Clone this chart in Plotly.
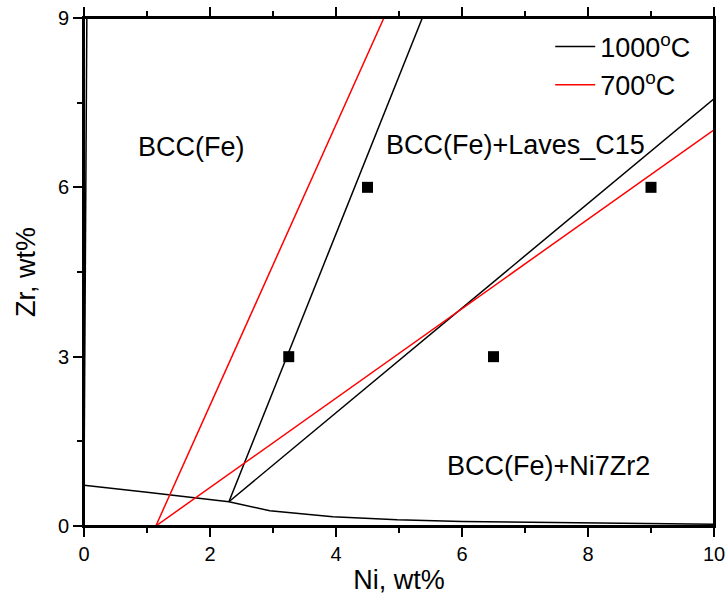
import plotly.graph_objects as go

# Phase boundary data (Ni wt%, Zr wt%)
solvus_left_x = [0.0, 0.045]
solvus_left_y = [0.72, 9.0]

bottom_x = [0.0, 1.0, 2.3, 2.95, 3.95, 4.97, 6.0, 8.0, 10.0]
bottom_y = [0.72, 0.60, 0.43, 0.27, 0.165, 0.11, 0.08, 0.05, 0.03]

black_a_x = [2.3, 5.37]
black_a_y = [0.43, 9.0]
black_b_x = [2.3, 10.0]
black_b_y = [0.43, 7.57]

red_a_x = [1.14, 4.76]
red_a_y = [0.0, 9.0]
red_b_x = [1.14, 10.0]
red_b_y = [0.0, 7.02]

samples_x = [3.25, 4.5, 6.5, 9.0]
samples_y = [3, 6, 3, 6]

labels = ["BCC(Fe)", "BCC(Fe)+Laves_C15", "BCC(Fe)+Ni7Zr2"]
labels_x = [1.71, 6.85, 7.37]
labels_y = [6.72, 6.75, 1.06]

FONT = "Liberation Sans, Arial, sans-serif"
blk = dict(color="black", width=1.5)
red = dict(color="#ff0000", width=1.5)

fig = go.Figure()
fig.add_trace(go.Scatter(x=black_a_x, y=black_a_y, mode="lines", line=blk,
                         name="1000<sup>o</sup>C"))
for xs, ys in [(black_b_x, black_b_y), (bottom_x, bottom_y), (solvus_left_x, solvus_left_y)]:
    fig.add_trace(go.Scatter(x=xs, y=ys, mode="lines", line=blk, showlegend=False))
fig.add_trace(go.Scatter(x=red_a_x, y=red_a_y, mode="lines", line=red,
                         name="700<sup>o</sup>C"))
fig.add_trace(go.Scatter(x=red_b_x, y=red_b_y, mode="lines", line=red, showlegend=False))
fig.add_trace(go.Scatter(x=samples_x, y=samples_y, mode="markers",
                         marker=dict(symbol="square", size=11, color="black"),
                         showlegend=False))

for t, x, y in zip(labels, labels_x, labels_y):
    fig.add_annotation(x=x, y=y, text=t, showarrow=False,
                       font=dict(family=FONT, size=27, color="black"))

axis_common = dict(showgrid=False, zeroline=False, showline=True, linecolor="black",
                   linewidth=2, ticks="outside", ticklen=9, tickwidth=2, tickcolor="black",
                   automargin=False, ticklabeloverflow="allow",
                   tickfont=dict(family=FONT, size=20, color="black"))

fig.update_xaxes(range=[0, 10], dtick=2, tick0=0, mirror="ticks",
                 minor=dict(dtick=1, ticks="outside", ticklen=5, tickwidth=2, tickcolor="black"),
                 title=dict(text="Ni, wt%", font=dict(family=FONT, size=27, color="black"), standoff=6),
                 **axis_common)
fig.update_yaxes(range=[0, 9], dtick=3, tick0=0, mirror=True,
                 minor=dict(dtick=1.5, ticks="outside", ticklen=5, tickwidth=2, tickcolor="black"),
                 title=dict(text="Zr, wt%", font=dict(family=FONT, size=27, color="black"), standoff=14),
                 **axis_common)

# plot frame
fig.add_shape(type="rect", xref="paper", yref="paper", x0=0, y0=0, x1=1, y1=1,
              line=dict(color="black", width=2), layer="above")

fig.update_layout(
    width=726, height=603,
    margin=dict(l=84, r=12, t=18, b=77),
    plot_bgcolor="white", paper_bgcolor="white",
    font=dict(family=FONT, color="black"),
    legend=dict(x=0.74, y=0.991, xanchor="left", yanchor="top",
                bgcolor="rgba(0,0,0,0)", font=dict(family=FONT, size=27, color="black"),
                tracegroupgap=0, itemwidth=40),
)

# remove the default page margin so the figure sits at the window's corner
fig.write_html("out.html", config={"displayModeBar": False},
               post_script="document.body.style.margin='0';document.body.style.overflow='hidden';")
